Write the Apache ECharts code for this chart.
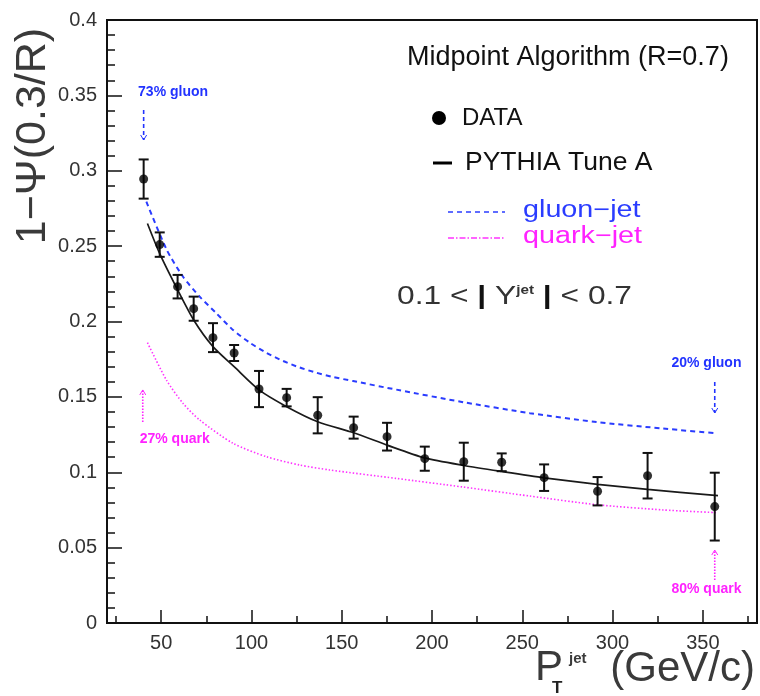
<!DOCTYPE html>
<html>
<head>
<meta charset="utf-8">
<script src="https://cdn.jsdelivr.net/npm/echarts@6/dist/echarts.min.js"></script>
<style>
  html, body { margin: 0; padding: 0; background: #fff; }
  #chart { width: 760px; height: 696px; }
</style>
</head>
<body>
<div id="chart"></div>
<script>
// Jet shape 1-Psi(0.3/R) versus jet pT, Midpoint algorithm (R=0.7), 0.1<|y|<0.7

// Measured points
const ptValues   = [40.3, 49.2, 59.1, 68.0, 78.7, 90.4, 104.2, 119.5, 136.7, 156.6, 175.1, 196.0, 217.6, 238.6, 262.1, 291.7, 319.4, 356.6];
const dataValues = [0.2945, 0.251, 0.2231, 0.2085, 0.1893, 0.1791, 0.1552, 0.1495, 0.1378, 0.1296, 0.1236, 0.109, 0.107, 0.1066, 0.0964, 0.0874, 0.0977, 0.0772];
const dataErrors = [0.013, 0.0081, 0.0078, 0.008, 0.0096, 0.0053, 0.012, 0.0058, 0.012, 0.0073, 0.0092, 0.008, 0.0126, 0.0059, 0.0088, 0.0094, 0.0151, 0.0225];

// PYTHIA Tune A prediction
const pythiaPt = [42.4, 49.2, 59.1, 68.0, 78.7, 90.4, 104.2, 119.5, 136.7, 156.6, 175.1, 196.0, 217.6, 238.6, 262.1, 291.7, 319.4, 358.4];
const pythiaY  = [0.265, 0.245, 0.221, 0.201, 0.1833, 0.170, 0.1546, 0.1435, 0.1335, 0.1262, 0.118, 0.1095, 0.1045, 0.1005, 0.0963, 0.092, 0.0886, 0.0845];

// PYTHIA gluon-jet prediction
const gluonPt = [41.8, 52.9, 62.1, 71.3, 80.6, 89.8, 99.0, 108.3, 117.5, 126.7, 136.0, 145.2, 156.3, 180.3, 217.2, 254.2, 291.1, 328.0, 357.6];
const gluonY  = [0.2795, 0.248, 0.2297, 0.2165, 0.2054, 0.1944, 0.186, 0.1792, 0.1738, 0.1695, 0.166, 0.1632, 0.1605, 0.1548, 0.1465, 0.1392, 0.1333, 0.129, 0.1258];

// PYTHIA quark-jet prediction
const quarkPt = [42.4, 52.9, 62.1, 71.3, 89.8, 108.3, 126.7, 143.4, 180.3, 217.2, 254.2, 291.1, 328.0, 357.6];
const quarkY  = [0.186, 0.1612, 0.1457, 0.1347, 0.1192, 0.1103, 0.1048, 0.1015, 0.0959, 0.0902, 0.0842, 0.0785, 0.075, 0.0732];

// Axis ticks
const xMajorTicks = [50, 100, 150, 200, 250, 300, 350];
const xMinorTicks = [25, 75, 125, 175, 225, 275, 325, 375];

// Gluon / quark fraction notes at the lowest and highest pT bins
const noteTexts  = ['73% gluon', '27% quark', '20% gluon', '80% quark'];
const noteColors = ['#2233ff', '#ff22ff', '#2233ff', '#ff22ff'];
const noteAnchor = [[56.6, 0.3522], [57.5, 0.1221], [352, 0.1725], [352, 0.0226]];
const arrowFrom  = [[40.3, 0.3403], [39.8, 0.1333], [356.6, 0.1599], [356.6, 0.0285]];
const arrowTo    = [[40.3, 0.3204], [39.8, 0.1546], [356.6, 0.1393], [356.6, 0.0484]];

const FONT = "'Liberation Sans', Arial, Helvetica, sans-serif";
const zip = (a, b) => a.map((v, i) => [v, b[i]]);

const chart = echarts.init(document.getElementById('chart'), null, { renderer: 'canvas' });

const errorBars = ptValues.map((x, i) => [x, dataValues[i], dataErrors[i]]);
const notes = noteTexts.map((t, i) => [i]);

const option = {
  animation: false,
  backgroundColor: '#fff',
  grid: { left: 107, right: 3, top: 20, bottom: 73, show: true, borderColor: '#111', borderWidth: 2, backgroundColor: 'transparent' },
  xAxis: [
    {
      type: 'value', min: 20, max: 380, position: 'bottom',
      axisLine: { show: true, lineStyle: { color: '#111', width: 2 } },
      axisTick: { show: true, inside: true, length: 13, customValues: xMajorTicks, lineStyle: { color: '#111', width: 1.5 } },
      axisLabel: { show: true, customValues: xMajorTicks, margin: 10, fontSize: 20, color: '#333', fontFamily: FONT },
      splitLine: { show: false }
    },
    {
      type: 'value', min: 20, max: 380, position: 'bottom', offset: 0,
      axisLine: { show: false },
      axisTick: { show: true, inside: true, length: 7, customValues: xMinorTicks, lineStyle: { color: '#111', width: 1.5 } },
      axisLabel: { show: false },
      splitLine: { show: false }
    }
  ],
  yAxis: {
    type: 'value', min: 0, max: 0.4, interval: 0.05,
    axisLine: { show: true, lineStyle: { color: '#111', width: 2 } },
    axisTick: { show: true, inside: true, length: 15, lineStyle: { color: '#111', width: 1.5 } },
    minorTick: { show: true, splitNumber: 5, length: 8, lineStyle: { color: '#111', width: 1.5 } },
    axisLabel: {
      margin: 10, fontSize: 20, color: '#333', fontFamily: FONT,
      formatter: v => String(+v.toFixed(2))
    },
    splitLine: { show: false },
    minorSplitLine: { show: false }
  },
  series: [
    {
      name: 'gluon-jet', type: 'line', data: zip(gluonPt, gluonY),
      showSymbol: false, smooth: 0.25, silent: true,
      lineStyle: { color: '#2a3cff', width: 2, type: [5, 4] }, z: 2
    },
    {
      name: 'quark-jet', type: 'line', data: zip(quarkPt, quarkY),
      showSymbol: false, smooth: 0.25, silent: true,
      lineStyle: { color: '#ff33ff', width: 1.6, type: [1.5, 2] }, z: 2
    },
    {
      name: 'PYTHIA Tune A', type: 'line', data: zip(pythiaPt, pythiaY),
      showSymbol: false, smooth: 0.25, silent: true,
      lineStyle: { color: '#1a1a1a', width: 1.7 }, z: 3
    },
    {
      name: 'errors', type: 'custom', data: errorBars, z: 4,
      renderItem: (params, api) => {
        const x = api.value(0), y = api.value(1), e = api.value(2);
        const top = api.coord([x, y + e]);
        const bot = api.coord([x, y - e]);
        const cap = 5;
        const style = { stroke: '#111', lineWidth: 2 };
        return {
          type: 'group',
          children: [
            { type: 'line', shape: { x1: top[0], y1: top[1], x2: bot[0], y2: bot[1] }, style },
            { type: 'line', shape: { x1: top[0] - cap, y1: top[1], x2: top[0] + cap, y2: top[1] }, style },
            { type: 'line', shape: { x1: bot[0] - cap, y1: bot[1], x2: bot[0] + cap, y2: bot[1] }, style }
          ]
        };
      }
    },
    {
      name: 'DATA', type: 'scatter', data: zip(ptValues, dataValues),
      symbol: 'circle', symbolSize: 9, itemStyle: { color: '#000' }, z: 5
    },
    {
      name: 'notes', type: 'custom', data: notes, z: 6, silent: true,
      renderItem: (params, api) => {
        const i = api.value(0);
        const color = noteColors[i];
        const p0 = api.coord(arrowFrom[i]);
        const p1 = api.coord(arrowTo[i]);
        const pt = api.coord(noteAnchor[i]);
        const dir = p1[1] > p0[1] ? 1 : -1;
        const head = 5;
        return {
          type: 'group',
          children: [
            { type: 'line', shape: { x1: p0[0], y1: p0[1], x2: p1[0], y2: p1[1] },
              style: { stroke: color, lineWidth: 1.6, lineDash: i % 2 ? [1.5, 1.5] : [4, 3] } },
            { type: 'polyline', shape: { points: [[p1[0] - 3, p1[1] - dir * head], [p1[0], p1[1]], [p1[0] + 3, p1[1] - dir * head]] },
              style: { stroke: color, lineWidth: 1, fill: null } },
            { type: 'text', x: pt[0], y: pt[1],
              style: { text: noteTexts[i], fill: color, font: 'bold 14px ' + FONT, align: 'center', verticalAlign: 'middle' } }
          ]
        };
      }
    }
  ],
  graphic: [
    // Axis titles
    {
      type: 'text', x: 33, y: 136, rotation: Math.PI / 2,
      style: { text: '1\u2212\u03A8(0.3/R)', font: '43px ' + FONT, fill: '#3a3a3a', align: 'center', verticalAlign: 'middle' }
    },
    {
      type: 'text', x: 535, y: 668,
      style: { text: 'P', font: '42px ' + FONT, fill: '#3a3a3a', align: 'left', verticalAlign: 'middle' }
    },
    {
      type: 'text', x: 552, y: 688,
      style: { text: 'T', font: 'bold 17px ' + FONT, fill: '#222', align: 'left', verticalAlign: 'middle' }
    },
    {
      type: 'text', x: 569, y: 659,
      style: { text: 'jet', font: 'bold 15px ' + FONT, fill: '#3a3a3a', align: 'left', verticalAlign: 'middle' }
    },
    {
      type: 'text', x: 755, y: 669,
      style: { text: '(GeV/c)', font: '42px ' + FONT, fill: '#3a3a3a', align: 'right', verticalAlign: 'middle' }
    },
    // Header and legend
    {
      type: 'text', x: 407, y: 58,
      style: { text: 'Midpoint Algorithm (R=0.7)', font: '27px ' + FONT, fill: '#111', align: 'left', verticalAlign: 'middle' }
    },
    { type: 'circle', shape: { cx: 439, cy: 118, r: 7 }, style: { fill: '#000' } },
    {
      type: 'text', x: 462, y: 118,
      style: { text: 'DATA', font: '24px ' + FONT, fill: '#111', align: 'left', verticalAlign: 'middle' }
    },
    { type: 'line', shape: { x1: 433, y1: 163, x2: 452, y2: 163 }, style: { stroke: '#000', lineWidth: 3 } },
    {
      type: 'text', x: 465, y: 163, scaleX: 1.06,
      style: { text: 'PYTHIA Tune A', font: '25px ' + FONT, fill: '#111', align: 'left', verticalAlign: 'middle' }
    },
    { type: 'line', shape: { x1: 448, y1: 212, x2: 505, y2: 212 }, style: { stroke: '#2a3cff', lineWidth: 1.5, lineDash: [5, 4] } },
    {
      type: 'text', x: 523, y: 211, scaleX: 1.25,
      style: { text: 'gluon\u2212jet', font: '23px ' + FONT, fill: '#2a3cff', align: 'left', verticalAlign: 'middle' }
    },
    { type: 'line', shape: { x1: 448, y1: 238, x2: 505, y2: 238 }, style: { stroke: '#ff33ff', lineWidth: 1.5, lineDash: [6, 2, 1.5, 2] } },
    {
      type: 'text', x: 523, y: 237, scaleX: 1.25,
      style: { text: 'quark\u2212jet', font: '23px ' + FONT, fill: '#ff22ff', align: 'left', verticalAlign: 'middle' }
    },
    {
      type: 'text', x: 397, y: 297, scaleX: 1.27,
      style: {
        text: '0.1 < {bar||} Y{sup|jet} {bar||} < 0.7', font: '25px ' + FONT, fill: '#333', align: 'left', verticalAlign: 'middle',
        rich: {
          sup: { fontSize: 12, fontWeight: 'bold', fill: '#333', verticalAlign: 'top', fontFamily: FONT },
          bar: { fontSize: 25, fontWeight: 'bold', fill: '#111', fontFamily: FONT }
        }
      }
    }
  ]
};

chart.setOption(option);
</script>
</body>
</html>
